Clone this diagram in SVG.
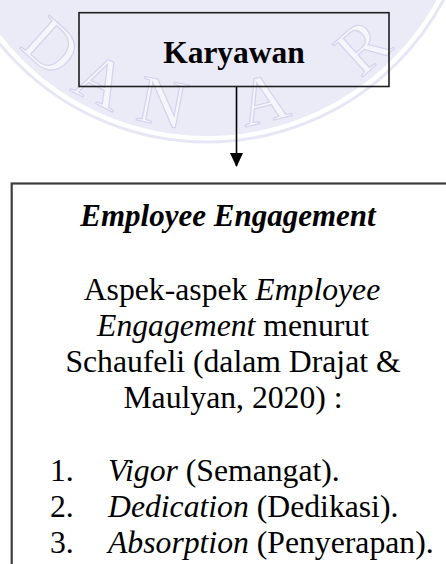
<svg xmlns="http://www.w3.org/2000/svg" width="446" height="564" viewBox="0 0 446 564">
  <style>
    .serif { font-family: "Liberation Serif", "Times New Roman", serif; fill: #000; }
    .bold { font-weight: bold; }
    .it { font-style: italic; }
    .mark { font-family: "Liberation Serif", serif; font-size: 68px; fill: #f5f5fc; stroke: #d3d3ec; stroke-width: 1.2; }
    .box-top { fill: none; stroke: #1e1e1e; stroke-width: 1.6; }
    .box-main { fill: none; stroke: #3c3c3c; stroke-width: 2.2; }
    .edge { stroke: #000; stroke-width: 1.6; fill: none; }
  </style>
  <defs>
    <marker id="arrow" markerWidth="14" markerHeight="15" refX="14" refY="7" orient="auto" markerUnits="userSpaceOnUse" viewBox="0 0 15 14">
      <path d="M0,0 L15,7 L0,14 Z" fill="#000"/>
    </marker>
  </defs>

  <rect width="446" height="564" fill="#fff"/>

  <!-- faint seal in the background -->
  <g id="seal">
    <circle cx="207" cy="-126" r="262" fill="#ebebf7"/>
    <circle cx="207" cy="-126" r="268" fill="none" stroke="#e6e6f5" stroke-width="3"/>
    <text class="mark" text-anchor="middle" transform="translate(207,-126) rotate(42) translate(0,255)">D</text>
    <text class="mark" text-anchor="middle" transform="translate(207,-126) rotate(27) translate(0,255)">A</text>
    <text class="mark" text-anchor="middle" transform="translate(207,-126) rotate(11) translate(0,255)">N</text>
    <text class="mark" text-anchor="middle" transform="translate(207,-126) rotate(-14) translate(0,255)">A</text>
    <text class="mark" text-anchor="middle" transform="translate(207,-126) rotate(-42) translate(0,255)">R</text>
  </g>

  <g id="connectors">
    <line class="edge" x1="236.5" y1="86.5" x2="236.5" y2="166" marker-end="url(#arrow)"/>
  </g>

  <g id="karyawan">
    <rect class="box-top" x="79" y="12.7" width="310" height="73.8"/>
    <text class="serif bold" x="234" y="62.5" font-size="31.5" text-anchor="middle">Karyawan</text>
  </g>

  <g id="employee-engagement">
    <rect class="box-main" x="11.7" y="183.5" width="460" height="420"/>
    <text class="serif bold it" x="228" y="226" font-size="31" text-anchor="middle">Employee Engagement</text>
    <g class="serif" font-size="31.7" text-anchor="middle">
      <text x="232" y="300">Aspek-aspek <tspan class="it">Employee</tspan></text>
      <text x="233" y="336"><tspan class="it">Engagement</tspan> menurut</text>
      <text x="233" y="372">Schaufeli (dalam Drajat &amp;</text>
      <text x="233" y="408">Maulyan, 2020) :</text>
    </g>
    <g class="serif" font-size="31.7">
      <text x="50" y="481">1.</text>
      <text x="108" y="481"><tspan class="it">Vigor</tspan> (Semangat).</text>
      <text x="50" y="517">2.</text>
      <text x="108" y="517"><tspan class="it">Dedication</tspan> (Dedikasi).</text>
      <text x="50" y="553">3.</text>
      <text x="108" y="553"><tspan class="it">Absorption</tspan> (Penyerapan).</text>
    </g>
  </g>
</svg>
